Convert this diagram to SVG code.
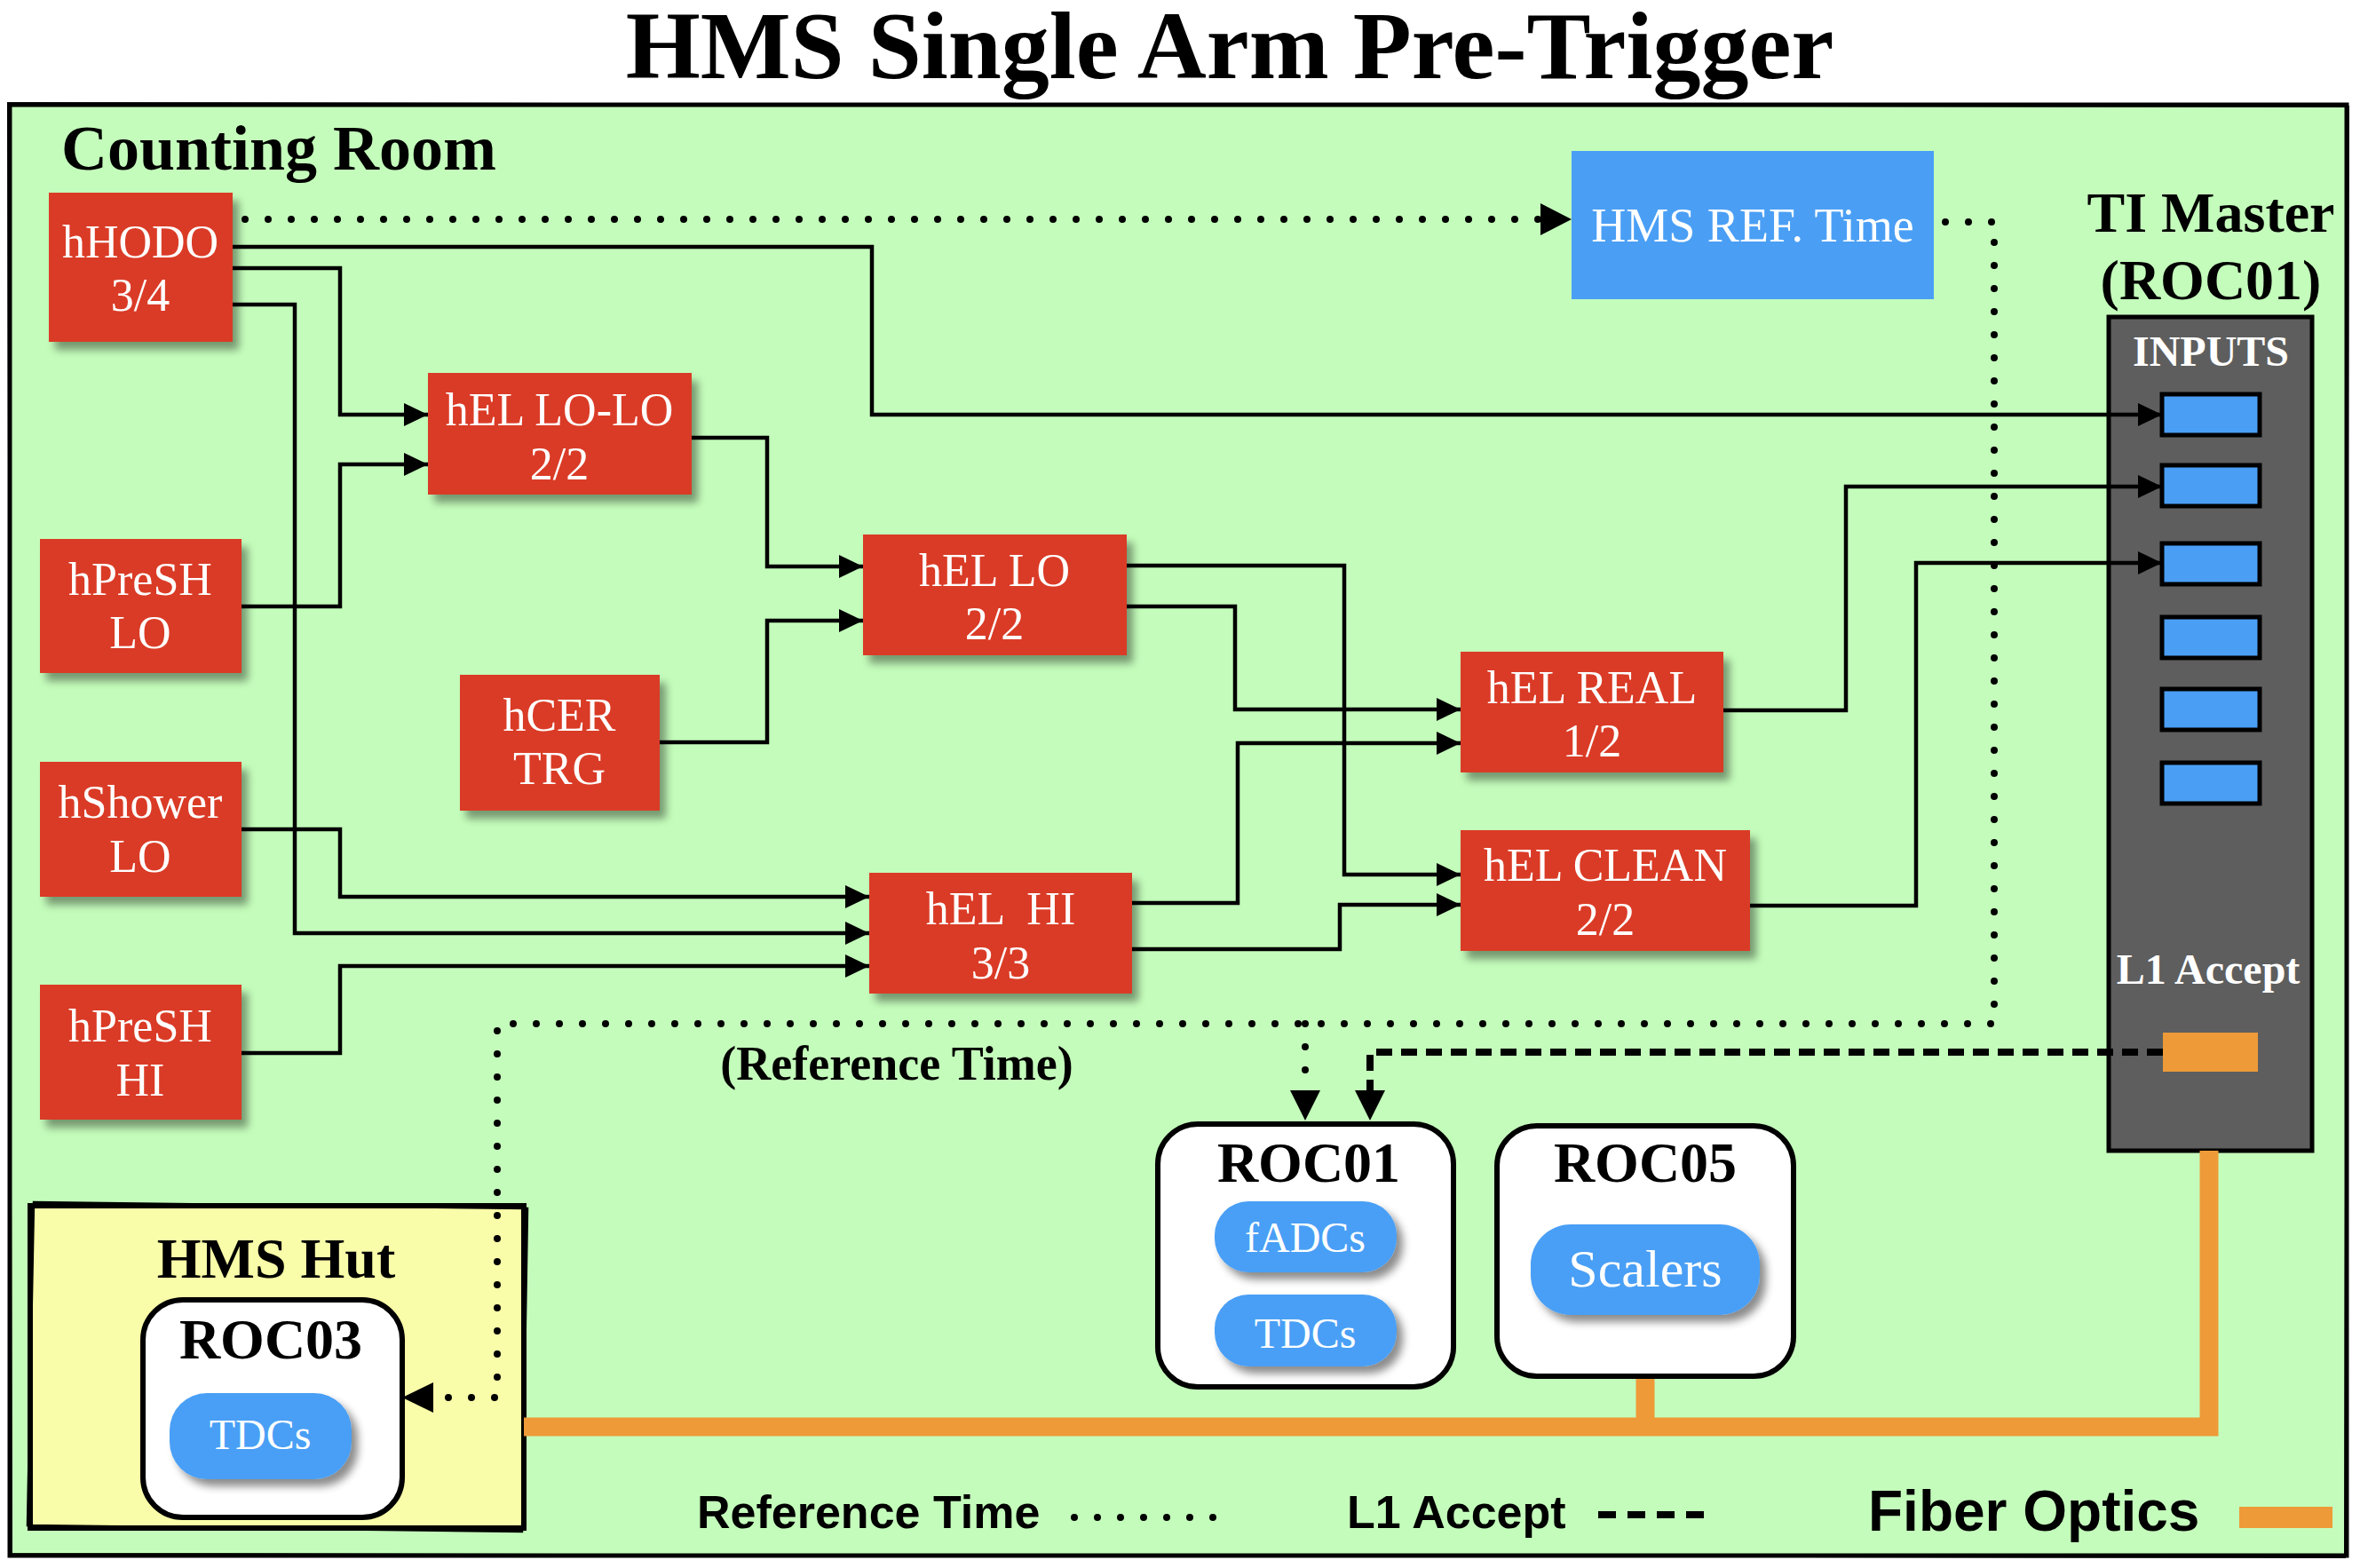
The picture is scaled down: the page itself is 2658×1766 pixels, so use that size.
<svg xmlns="http://www.w3.org/2000/svg" width="2658" height="1766" viewBox="0 0 2658 1766">
<style>
.red{fill:#da3b27;filter:url(#sh)}
.rt{font-family:"Liberation Serif",serif;font-size:52px;fill:#fff;text-anchor:middle}
.bt{font-family:"Liberation Serif",serif;font-weight:bold;fill:#000;text-anchor:middle}
.pill{fill:#4a9ff5;filter:url(#sh2)}
.pt{font-family:"Liberation Serif",serif;font-size:48px;fill:#fff;text-anchor:middle}
.roc{fill:#fff;stroke:#000;stroke-width:6}
.wire{fill:none;stroke:#000;stroke-width:4.5;marker-end:url(#ar)}
.dot{fill:none;stroke:#000;stroke-width:8;stroke-linecap:round;stroke-dasharray:0 26}
.dash{fill:none;stroke:#000;stroke-width:8;stroke-dasharray:18 10}
.fib{fill:none;stroke:#ee9a38;stroke-width:21}
.slot{fill:#4a9ff5;stroke:#000;stroke-width:5}
.leg{font-family:"Liberation Sans",Arial,sans-serif;font-weight:bold;fill:#000}
</style>
<defs>
<filter id="sh" x="-10%" y="-10%" width="130%" height="140%">
<feDropShadow dx="7" dy="9" stdDeviation="5" flood-color="#000" flood-opacity="0.4"/>
</filter>
<filter id="sh2" x="-10%" y="-10%" width="130%" height="150%">
<feDropShadow dx="7" dy="8" stdDeviation="5" flood-color="#000" flood-opacity="0.45"/>
</filter>
<marker id="ar" markerUnits="userSpaceOnUse" markerWidth="27" markerHeight="26" refX="27" refY="13" orient="auto">
<path d="M0,0 L27,13 L0,26 Z" fill="#000"/>
</marker>
</defs>

<rect width="2658" height="1766" fill="#fff"/>
<text class="bt" x="1385" y="88" font-size="108">HMS Single Arm Pre-Trigger</text>

<g id="counting-room">
<rect x="11" y="118" width="2632" height="1634" fill="#c4fdbb" stroke="#000" stroke-width="5"/>
<path d="M9,116 L2645,120 L2641,1754 L13,1750 Z" fill="none" stroke="#000" stroke-width="2"/>
<text class="bt" x="69" y="191" font-size="72" style="text-anchor:start">Counting Room</text>
</g>

<g id="hms-hut">
<rect x="34" y="1358" width="556" height="363" fill="#f9fca8" stroke="#000" stroke-width="6"/>
<path d="M38,1354 L594,1361 L588,1725 L31,1718 Z" fill="none" stroke="#000" stroke-width="2.5"/>
<text class="bt" x="311" y="1439" font-size="64">HMS Hut</text>
</g>

<g id="ti-master">
<text class="bt" x="2490" y="261" font-size="64">TI Master</text>
<text class="bt" x="2490" y="337" font-size="64">(ROC01)</text>
<rect x="2375" y="357" width="229" height="939" fill="#5e5e5e" stroke="#000" stroke-width="5"/>
<text class="bt" x="2490" y="412" font-size="48" style="fill:#fff">INPUTS</text>
<rect class="slot" x="2435" y="444" width="110" height="46"/>
<rect class="slot" x="2435" y="524" width="110" height="46"/>
<rect class="slot" x="2435" y="612" width="110" height="46"/>
<rect class="slot" x="2435" y="695" width="110" height="46"/>
<rect class="slot" x="2435" y="776" width="110" height="46"/>
<rect class="slot" x="2435" y="859" width="110" height="46"/>
<text class="bt" x="2487" y="1108" font-size="48" style="fill:#fff">L1 Accept</text>
<rect x="2436" y="1163" width="107" height="44" fill="#ee9a38"/>
</g>

<g id="connectors">
<path class="fib" d="M590,1607 L2488,1607 L2488,1296"/>
<path class="fib" d="M1853,1550 L1853,1607"/>
<path class="wire" d="M262,278 L982,278 L982,467 L2435,467"/>
<path class="wire" d="M262,302 L383,302 L383,467 L482,467"/>
<path class="wire" d="M262,343 L332,343 L332,1051 L979,1051"/>
<path class="wire" d="M272,683 L383,683 L383,523 L482,523"/>
<path class="wire" d="M779,493 L864,493 L864,638 L972,638"/>
<path class="wire" d="M743,836 L864,836 L864,699 L972,699"/>
<path class="wire" d="M1269,637 L1514,637 L1514,985 L1645,985"/>
<path class="wire" d="M1269,683 L1391,683 L1391,799 L1645,799"/>
<path class="wire" d="M272,934 L383,934 L383,1010 L979,1010"/>
<path class="wire" d="M272,1186 L383,1186 L383,1088 L979,1088"/>
<path class="wire" d="M1275,1017 L1394,1017 L1394,837 L1645,837"/>
<path class="wire" d="M1275,1069 L1509,1069 L1509,1019 L1645,1019"/>
<path class="wire" d="M1941,800 L2079,800 L2079,548 L2435,548"/>
<path class="wire" d="M1971,1020 L2158,1020 L2158,634 L2435,634"/>
<path class="dot" d="M276,247 L1736,247"/>
<path d="M1735,229 L1770,247 L1735,265 Z" fill="#000"/>
<path class="dot" d="M2191,250 L2246,250 L2246,1153 L560,1153 L560,1574 L490,1574"/>
<path d="M488,1557 L453,1574 L488,1591 Z" fill="#000"/>
<path class="dot" d="M1470,1153 L1470,1228"/>
<path d="M1453,1228 L1470,1262 L1487,1228 Z" fill="#000"/>
<path class="dash" d="M2436,1185 L1543,1185 L1543,1230"/>
<path d="M1526,1228 L1543,1262 L1560,1228 Z" fill="#000"/>
<text class="bt" x="1010" y="1216" font-size="54">(Reference Time)</text>
</g>

<g id="hHODO"><rect class="red" x="55" y="217" width="207" height="168"/><text class="rt" x="158" y="290">hHODO</text><text class="rt" x="158" y="350">3/4</text></g>
<g id="hPreSH-LO"><rect class="red" x="45" y="607" width="227" height="151"/><text class="rt" x="158" y="670">hPreSH</text><text class="rt" x="158" y="730">LO</text></g>
<g id="hShower-LO"><rect class="red" x="45" y="858" width="227" height="152"/><text class="rt" x="158" y="921">hShower</text><text class="rt" x="158" y="982">LO</text></g>
<g id="hPreSH-HI"><rect class="red" x="45" y="1109" width="227" height="152"/><text class="rt" x="158" y="1173">hPreSH</text><text class="rt" x="158" y="1234">HI</text></g>
<g id="hCER-TRG"><rect class="red" x="518" y="760" width="225" height="153"/><text class="rt" x="630" y="823">hCER</text><text class="rt" x="630" y="883">TRG</text></g>
<g id="hEL-LO-LO"><rect class="red" x="482" y="420" width="297" height="137"/><text class="rt" x="630" y="479">hEL LO-LO</text><text class="rt" x="630" y="540">2/2</text></g>
<g id="hEL-LO"><rect class="red" x="972" y="602" width="297" height="136"/><text class="rt" x="1120" y="660">hEL LO</text><text class="rt" x="1120" y="720">2/2</text></g>
<g id="hEL-HI"><rect class="red" x="979" y="983" width="296" height="136"/><text class="rt" x="1127" y="1041" style="white-space:pre">hEL  HI</text><text class="rt" x="1127" y="1102">3/3</text></g>
<g id="hEL-REAL"><rect class="red" x="1645" y="734" width="296" height="136"/><text class="rt" x="1793" y="792">hEL REAL</text><text class="rt" x="1793" y="852">1/2</text></g>
<g id="hEL-CLEAN"><rect class="red" x="1645" y="935" width="326" height="136"/><text class="rt" x="1808" y="992">hEL CLEAN</text><text class="rt" x="1808" y="1053">2/2</text></g>
<g id="hms-ref-time"><rect x="1770" y="170" width="408" height="167" fill="#4a9ff5"/><text class="rt" x="1974" y="272" style="font-size:54px">HMS REF. Time</text></g>

<g id="ROC01"><rect class="roc" x="1304" y="1266" width="333" height="296" rx="45"/><text class="bt" x="1474" y="1331" font-size="64">ROC01</text>
<rect class="pill" x="1368" y="1353" width="205" height="80" rx="38"/><text class="pt" x="1470" y="1410">fADCs</text>
<rect class="pill" x="1368" y="1458" width="205" height="81" rx="38"/><text class="pt" x="1470" y="1518">TDCs</text></g>
<g id="ROC05"><rect class="roc" x="1686" y="1268" width="334" height="282" rx="45"/><text class="bt" x="1853" y="1331" font-size="64">ROC05</text>
<rect class="pill" x="1724" y="1379" width="258" height="102" rx="45"/><text class="pt" x="1853" y="1449" style="font-size:60px">Scalers</text></g>
<g id="ROC03"><rect class="roc" x="161" y="1464" width="292" height="245" rx="45"/><text class="bt" x="305" y="1530" font-size="64">ROC03</text>
<rect class="pill" x="191" y="1569" width="205" height="97" rx="42"/><text class="pt" x="293" y="1632">TDCs</text></g>

<g id="legend">
<text class="leg" x="785" y="1721" font-size="52">Reference Time</text>
<path class="dot" d="M1210,1709 L1370,1709"/>
<text class="leg" x="1517" y="1721" font-size="52">L1 Accept</text>
<path fill="none" stroke="#000" stroke-width="8" stroke-dasharray="20 13" d="M1800,1706 L1919,1706"/>
<text class="leg" x="2104" y="1724" font-size="64">Fiber Optics</text>
<rect x="2522" y="1697" width="105" height="24" fill="#ee9a38"/>
</g>
</svg>
